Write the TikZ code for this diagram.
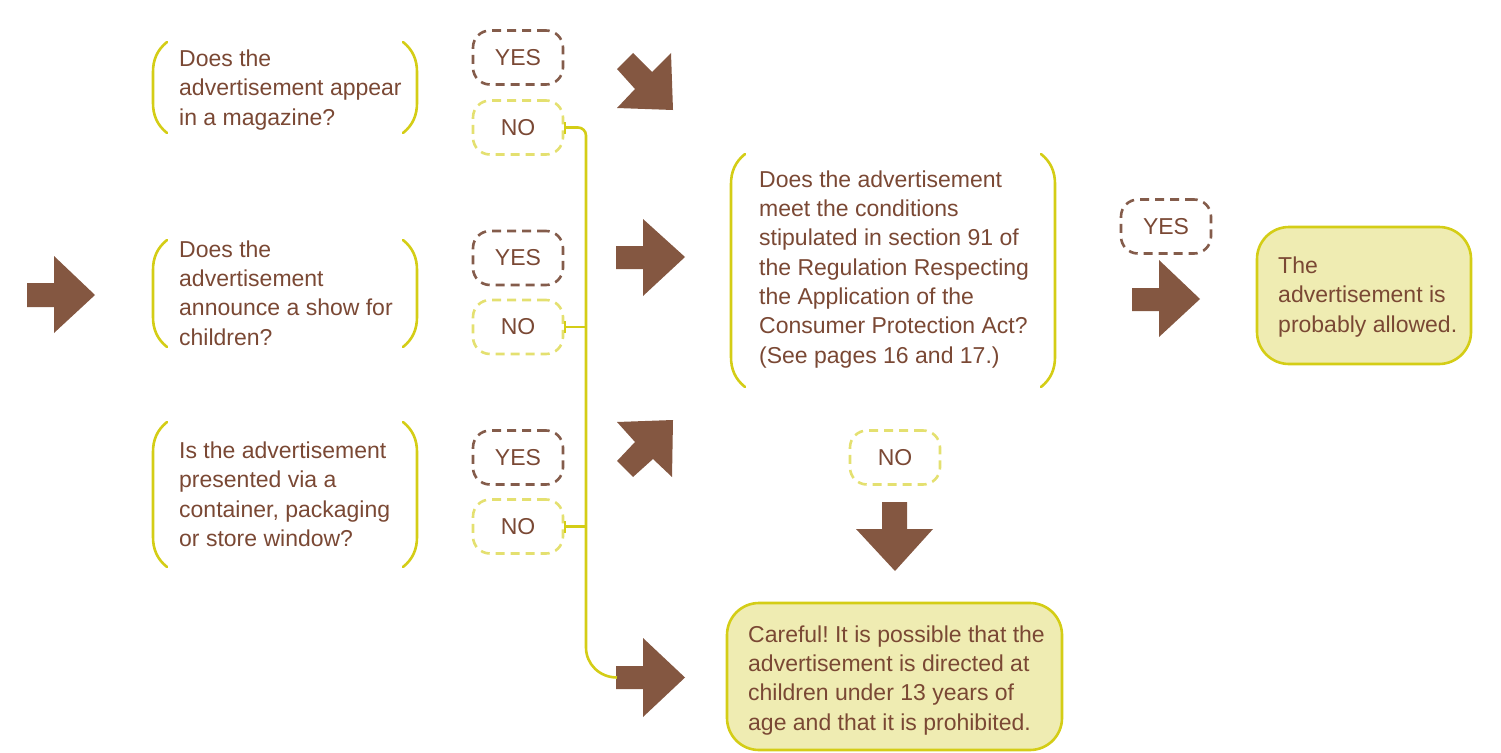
\documentclass[tikz,border=0pt]{standalone}
\usepackage{fontspec}
\setmainfont{Liberation Sans}
\usetikzlibrary{arrows.meta}
\frenchspacing
\definecolor{txtbrown}{RGB}{122,72,52}
\definecolor{arrbrown}{RGB}{132,87,65}
\definecolor{dashbrown}{RGB}{132,92,75}
\definecolor{lineyel}{RGB}{212,205,22}
\definecolor{dashyel}{RGB}{228,224,112}
\definecolor{fillyel}{RGB}{239,236,178}
\newcommand\qbrk[4]{%
 \draw[brk] (#1+14,#2) .. controls (#1+4,#2+8) and (#1,#2+18) .. (#1,#2+30) -- (#1,#4-30) .. controls (#1,#4-18) and (#1+4,#4-8) .. (#1+14,#4);
 \draw[brk] (#3-14,#2) .. controls (#3-4,#2+8) and (#3,#2+18) .. (#3,#2+30) -- (#3,#4-30) .. controls (#3,#4-18) and (#3-4,#4-8) .. (#3-14,#4);}
\begin{document}
\begin{tikzpicture}[x=1pt,y=-1pt,
 txt/.style={anchor=base west,align=left,inner sep=0pt,text=txtbrown,font=\fontsize{23}{29.3}\selectfont},
 brk/.style={draw=lineyel,line width=2.6pt,line cap=round},
 pill/.style={rounded corners=17pt,dashed,dash pattern=on 9pt off 6pt,line width=2.6pt,minimum width=90pt,minimum height=54pt,inner sep=0pt,text=txtbrown,font=\fontsize{23}{28}\selectfont},
 yespill/.style={pill,draw=dashbrown},
 nopill/.style={pill,draw=dashyel},
 blk/.style={fill=arrbrown,draw=none},
 conn/.style={draw=lineyel,line width=2.6pt},
 resbox/.style={draw=lineyel,fill=fillyel,line width=2.6pt,rounded corners=32pt}]
\useasboundingbox (0,0) rectangle (1501,752);
% entry arrow
\fill[blk] (27,283) -- (54,283) -- (54,256) -- (95,295) -- (54,333) -- (54,307) -- (27,307) -- cycle;
% questions (anchor = baseline of last line)
\qbrk{153}{42}{417}{133}
\node[txt] (q1) at (179,125) {Does the\\advertisement appear\\in a magazine?};
\qbrk{153}{240}{417}{347}
\node[txt] (q2) at (179,345) {Does the\\advertisement\\announce a show for\\children?};
\qbrk{153}{422}{417}{567}
\node[txt] (q3) at (179,546.5) {Is the advertisement\\presented via a\\container, packaging\\or store window?};
% yes / no pills
\node[yespill] (yes1) at (518,57.5) {YES};
\node[nopill] (no1) at (518,127.5) {NO};
\node[yespill] (yes2) at (518,258) {YES};
\node[nopill] (no2) at (518,327) {NO};
\node[yespill] (yes3) at (518,457.5) {YES};
\node[nopill] (no3) at (518,526.5) {NO};
% block arrows
\fill[blk] (617,69) -- (633,53) -- (652,72) -- (671,53) -- (673,110) -- (617,108) -- (635,89) -- cycle;
\fill[blk] (616,246) -- (643,246) -- (643,219) -- (685,257) -- (643,296) -- (643,269) -- (616,269) -- cycle;
\fill[blk] (617,422) -- (673,420) -- (672,477) -- (653,459) -- (633,477) -- (617,461) -- (635,442) -- cycle;
\coordinate (a4tail) at (617,677.5);
\fill[blk] (616,666) -- (643,666) -- (643,638) -- (685,677.5) -- (643,717) -- (643,689) -- (616,689) -- cycle;
% connectors
\coordinate (trunk) at (586,127.5);
\draw[conn,{Bar[width=12pt,line width=2pt]}-] (no1.east) -- (578,127.5) .. controls (582.4,127.5) and (586,131.1) .. (586,135.5) -- (586,647.5) .. controls (586,664) and (599.5,677.5) .. (a4tail);
\draw[conn,{Bar[width=12pt,line width=2pt]}-] (no2.east) -- (no2.east -| trunk);
\draw[conn,{Bar[width=12pt,line width=2pt]}-] (no3.east) -- (no3.east -| trunk);
% main question
\qbrk{731}{154}{1055}{387}
\node[txt] (q4) at (759,363) {Does the advertisement\\meet the conditions\\stipulated in section 91 of\\the Regulation Respecting\\the Application of the\\Consumer Protection Act?\\(See pages 16 and 17.)};
\node[yespill] (yes4) at (1166,226.5) {YES};
\fill[blk] (1132,288) -- (1159,288) -- (1159,260) -- (1200,299) -- (1159,337) -- (1159,311) -- (1132,311) -- cycle;
\draw[resbox] (1257,227) rectangle (1471,364);
\node[txt] (res1) at (1278,332) {The\\advertisement is\\probably allowed.};
\node[nopill] (no4) at (895,457.5) {NO};
\fill[blk] (882,502) -- (907,502) -- (907,529) -- (933,529) -- (895,571) -- (856,529) -- (882,529) -- cycle;
\draw[resbox] (727,603) rectangle (1062,750);
\node[txt] (res2) at (748,730) {Careful! It is possible that the\\advertisement is directed at\\children under 13 years of\\age and that it is prohibited.};
\end{tikzpicture}
\end{document}
